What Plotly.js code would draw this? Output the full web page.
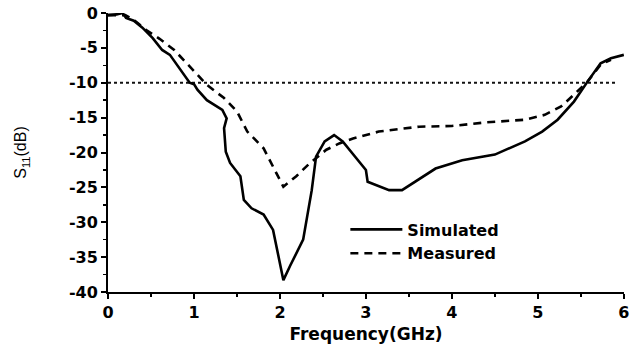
<!DOCTYPE html>
<html>
<head>
<meta charset="utf-8">
<script src="https://cdn.plot.ly/plotly-3.0.1.min.js"></script>
<style>html,body{margin:0;padding:0;background:#fff;}#chart{width:630px;height:350px;}</style>
</head>
<body>
<div id="chart"></div>
<script>
// Simulated S11 (dB) vs frequency (GHz)
const freqSim = [0, 0.1, 0.17, 0.21, 0.3, 0.4, 0.52, 0.63, 0.72, 0.78, 0.87, 0.95, 1.0, 1.04, 1.15, 1.25, 1.33, 1.38, 1.35, 1.37, 1.42, 1.54, 1.58, 1.67, 1.81, 1.92, 1.98, 2.04, 2.12, 2.19, 2.27, 2.37, 2.42, 2.52, 2.63, 2.73, 2.85, 3.0, 3.02, 3.1, 3.27, 3.42, 3.6, 3.81, 4.12, 4.5, 4.85, 5.05, 5.23, 5.42, 5.58, 5.73, 5.85, 6.0];
const s11Sim = [-0.3, -0.2, 0, -0.7, -1.1, -2.1, -3.6, -5.3, -6.0, -7.0, -8.5, -10.0, -10.2, -11.0, -12.5, -13.3, -13.9, -15.1, -16.5, -19.9, -21.5, -23.4, -26.8, -28.0, -28.9, -31.1, -34.9, -38.3, -36.2, -34.4, -32.5, -25.4, -20.6, -18.4, -17.5, -18.4, -20.3, -22.5, -24.2, -24.6, -25.4, -25.4, -24.0, -22.3, -21.1, -20.3, -18.4, -17.0, -15.3, -12.7, -9.8, -7.2, -6.5, -6.0];

// Measured S11 (dB) vs frequency (GHz)
const freqMeas = [0, 0.2, 0.3, 0.44, 0.6, 0.77, 0.9, 1.04, 1.15, 1.35, 1.5, 1.62, 1.81, 1.96, 2.04, 2.19, 2.35, 2.54, 2.69, 2.85, 3.08, 3.15, 3.62, 4.0, 4.38, 4.85, 5.08, 5.27, 5.42, 5.58, 5.73, 5.85];
const s11Meas = [-0.3, -0.3, -1.0, -2.4, -3.7, -5.3, -7.0, -8.9, -10.3, -12.2, -14.1, -17.0, -19.4, -23.0, -24.9, -23.4, -21.5, -19.6, -18.7, -18.0, -17.2, -17.0, -16.3, -16.2, -15.7, -15.3, -14.6, -13.4, -11.7, -9.8, -7.4, -6.7];

// -10 dB reference
const refFreq = [0, 5.9];
const refLevel = [-10, -10];

const xTicks = [0, 1, 2, 3, 4, 5, 6];
const yTicks = [0, -5, -10, -15, -20, -25, -30, -35, -40];

const FONT = "DejaVu Sans, Liberation Sans, Arial, sans-serif";

const traces = [
  {x: refFreq, y: refLevel, mode: 'lines', showlegend: false, hoverinfo: 'skip',
   line: {color: '#111', width: 2, dash: '3px,3px'}},
  {x: freqSim, y: s11Sim, mode: 'lines', name: 'Simulated',
   line: {color: '#000', width: 2.6}},
  {x: freqMeas, y: s11Meas, mode: 'lines', name: 'Measured',
   line: {color: '#000', width: 2.6, dash: '8px,6px'}}
];

const layout = {
  width: 630, height: 350,
  margin: {l: 108, r: 6, t: 13, b: 58},
  paper_bgcolor: '#fff', plot_bgcolor: '#fff',
  font: {family: FONT, color: '#000'},
  xaxis: {
    range: [0, 6.002], tickvals: xTicks, ticktext: xTicks.map(String),
    ticks: 'outside', ticklen: 5, tickwidth: 2, tickcolor: '#000',
    ticklabeloverflow: 'allow',
    minor: {tickvals: [0.5, 1.5, 2.5, 3.5, 4.5, 5.5], ticks: 'outside', ticklen: 3, tickwidth: 1.5, tickcolor: '#000'},
    showline: true, linewidth: 2, linecolor: '#000', mirror: false,
    showgrid: false, zeroline: false,
    tickfont: {size: 16, weight: 'bold', family: FONT, color: '#000'},
    title: {text: 'Frequency(GHz)', font: {size: 17, weight: 'bold', family: FONT, color: '#000'}, standoff: 7}
  },
  yaxis: {
    range: [-40, 0], tickvals: yTicks, ticktext: yTicks.map(String),
    ticks: 'outside', ticklen: 5, tickwidth: 2, tickcolor: '#000',
    minor: {tickvals: [-2.5, -7.5, -12.5, -17.5, -22.5, -27.5, -32.5, -37.5], ticks: 'outside', ticklen: 3, tickwidth: 1.5, tickcolor: '#000'},
    showline: true, linewidth: 2, linecolor: '#000', mirror: false,
    showgrid: false, zeroline: false,
    tickfont: {size: 16, weight: 'bold', family: FONT, color: '#000'},
    title: {text: 'S<sub>11</sub>(dB)', font: {size: 16, family: 'Liberation Sans, Arial, sans-serif', color: '#000'}, standoff: 38}
  },
  showlegend: true,
  legend: {
    x: 0.46, y: 0.285, xanchor: 'left', yanchor: 'top',
    bgcolor: 'rgba(0,0,0,0)', borderwidth: 0,
    font: {size: 16, weight: 'bold', family: FONT, color: '#000'},
    itemwidth: 52, tracegroupgap: 0
  }
};

Plotly.newPlot('chart', traces, layout, {displayModeBar: false, staticPlot: true});
</script>
</body>
</html>
